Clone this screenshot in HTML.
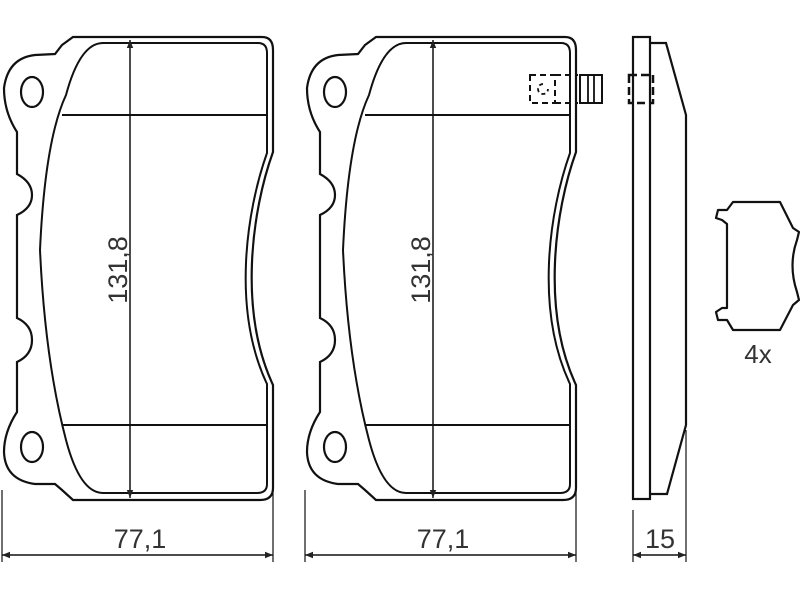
<!DOCTYPE html>
<html><head><meta charset="utf-8"><style>html,body{margin:0;padding:0;background:#fff}svg{display:block}</style></head>
<body>
<svg width="800" height="600" viewBox="0 0 800 600" xmlns="http://www.w3.org/2000/svg">
<defs>
<marker id="a" viewBox="0 0 10 10" refX="10" refY="5" markerWidth="12" markerHeight="8" markerUnits="userSpaceOnUse" orient="auto-start-reverse"><path d="M0,1 L10,5 L0,9 Z" fill="#222"/></marker>
<g id="pad">
<path d="M73,37 L262,37 Q273,37 273,50 L273,152 C252,210 238,310 273,385 L273,488 Q273,500 260,500 L73,500 L62,490 L55,484 L35,484 Q5,480 4,452 Q4,432 17,412 L17,362 Q32,355 32,340 Q32,325 17,318 L17,215 Q32,208 32,195 Q32,182 17,174 L17,132 Q4,112 4,88 Q8,58 35,55 L55,54 L62,45 Z" fill="none" stroke="#111" stroke-width="2.2"/>
<path d="M103,43 L258,43 Q267,43 267,53 L267,153 C246,212 232,310 267,384 L267,484 Q267,493 257,493 L103,493 Q80,493 66,440 Q45,360 40,250 Q45,140 66,95 Q80,43 103,43 Z" fill="none" stroke="#111" stroke-width="2"/>
<line x1="62" y1="115" x2="267" y2="115" stroke="#111" stroke-width="2"/>
<line x1="62" y1="425" x2="267" y2="425" stroke="#111" stroke-width="2"/>
<ellipse cx="32" cy="92" rx="11" ry="15" fill="none" stroke="#111" stroke-width="2.2"/>
<ellipse cx="32" cy="447" rx="11" ry="15" fill="none" stroke="#111" stroke-width="2.2"/>
<line x1="130" y1="40" x2="130" y2="498" stroke="#111" stroke-width="1.5" marker-start="url(#a)" marker-end="url(#a)"/>
<text transform="translate(127,270) rotate(-90)" text-anchor="middle" font-family="Liberation Sans, sans-serif" font-size="27" fill="#333">131,8</text>
<line x1="2" y1="490" x2="2" y2="562" stroke="#111" stroke-width="1.2"/>
<line x1="273" y1="490" x2="273" y2="562" stroke="#111" stroke-width="1.2"/>
<line x1="2" y1="555" x2="273" y2="555" stroke="#111" stroke-width="1.5" marker-start="url(#a)" marker-end="url(#a)"/>
<text x="140" y="548" text-anchor="middle" font-family="Liberation Sans, sans-serif" font-size="27" fill="#333">77,1</text>
</g>
</defs>
<use href="#pad"/>
<use href="#pad" transform="translate(303,0)"/>
<!-- sensor -->
<rect x="530" y="75" width="25" height="28" fill="none" stroke="#111" stroke-width="2" stroke-dasharray="6,4"/>
<path d="M543,84 a5,5 0 1,0 5,5" fill="none" stroke="#111" stroke-width="1.8" stroke-dasharray="4,3"/>
<line x1="555" y1="75" x2="578" y2="75" stroke="#111" stroke-width="2" stroke-dasharray="6,4"/>
<line x1="555" y1="103" x2="578" y2="103" stroke="#111" stroke-width="2" stroke-dasharray="6,4"/>
<rect x="580" y="75" width="22" height="28" fill="none" stroke="#111" stroke-width="2"/>
<line x1="588" y1="75" x2="588" y2="103" stroke="#111" stroke-width="1.8"/>
<line x1="594" y1="75" x2="594" y2="103" stroke="#111" stroke-width="1.8"/>
<!-- side view -->
<rect x="633" y="37" width="17" height="462" fill="none" stroke="#111" stroke-width="2.2"/>
<path d="M650,43 L666,43 L686,115 L686,425 L667,494 L650,494" fill="none" stroke="#111" stroke-width="2.2"/>
<rect x="629" y="75" width="24" height="28" fill="none" stroke="#111" stroke-width="2.5" stroke-dasharray="8,4"/>
<line x1="633" y1="510" x2="633" y2="562" stroke="#111" stroke-width="1.2"/>
<line x1="686" y1="430" x2="686" y2="562" stroke="#111" stroke-width="1.2"/>
<line x1="633" y1="555" x2="686" y2="555" stroke="#111" stroke-width="1.5" marker-start="url(#a)" marker-end="url(#a)"/>
<text x="660" y="548" text-anchor="middle" font-family="Liberation Sans, sans-serif" font-size="27" fill="#333">15</text>
<!-- clip -->
<path d="M733,202 L780,202 L793,228 L799,232 L797,240 Q788,265 797,292 L799,300 L793,305 L780,330 L733,330 L727,320 L718,320 L716,312 L722,308 L727,308 L727,224 L722,220 L716,218 L718,210 L727,210 Z" fill="none" stroke="#111" stroke-width="2.2" stroke-linejoin="round"/>
<text x="758" y="363" text-anchor="middle" font-family="Liberation Sans, sans-serif" font-size="26" fill="#333">4x</text>
</svg>
</body></html>
